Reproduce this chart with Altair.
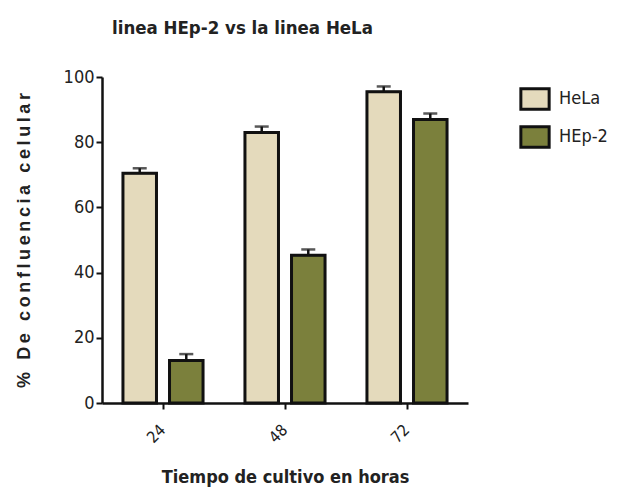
import altair as alt
import pandas as pd

times = ["24", "48", "72"]
series = ["HeLa", "HEp-2"]
hela_mean = [70.5, 83.0, 95.5]
hela_sd = [1.5, 1.8, 1.6]
hep2_mean = [13.0, 45.3, 87.0]
hep2_sd = [2.0, 1.8, 1.8]
colors = ["#E4DABC", "#7B803C"]

rows = []
for t, m, s in zip(times, hela_mean, hela_sd):
    rows.append({"time": t, "series": "HeLa", "mean": m, "top": m + s})
for t, m, s in zip(times, hep2_mean, hep2_sd):
    rows.append({"time": t, "series": "HEp-2", "mean": m, "top": m + s})
df = pd.DataFrame(rows)

FONT = "DejaVu Sans Condensed, Liberation Sans"
y_title = "\u2009".join("% De confluencia celular")

x = alt.X("time:N", sort=times, title="Tiempo de cultivo en horas",
          scale=alt.Scale(paddingInner=0, paddingOuter=0),
          axis=alt.Axis(labelAngle=315, labelFont=FONT, labelFontSize=16,
                        labelColor="#222", labelPadding=18, labelAlign="right",
                        labelBaseline="middle",
                        titleFont=FONT, titleFontSize=18, titleFontWeight="bold",
                        titleColor="#222", titlePadding=23,
                        domainColor="#111", domainWidth=2.5,
                        tickColor="#111", tickWidth=2, tickSize=6))
xo = alt.XOffset("series:N", sort=series,
                 scale=alt.Scale(paddingInner=0.28, paddingOuter=0.45))

bars = alt.Chart(df).mark_bar(stroke="#111", strokeWidth=3).encode(
    x=x,
    xOffset=xo,
    y=alt.Y("mean:Q", title=y_title,
            scale=alt.Scale(domain=[0, 100]),
            axis=alt.Axis(values=[0, 20, 40, 60, 80, 100], grid=False,
                          labelFont=FONT, labelFontSize=18, labelColor="#222",
                          labelPadding=2,
                          titleFont="Liberation Sans", titleFontSize=18,
                          titleFontWeight="bold", titleColor="#222",
                          titlePadding=30,
                          domainColor="#111", domainWidth=2.5,
                          tickColor="#111", tickWidth=2, tickSize=6)),
    color=alt.Color("series:N", sort=series,
                    scale=alt.Scale(domain=series, range=colors),
                    legend=alt.Legend(title=None, orient="none",
                                      legendX=421, legendY=10,
                                      symbolType="M-1.38,-1H1.38V1H-1.38Z",
                                      symbolSize=420, symbolStrokeColor="#111",
                                      symbolStrokeWidth=3, symbolOpacity=1,
                                      labelFont=FONT, labelFontSize=18,
                                      labelColor="#222", labelOffset=12,
                                      rowPadding=4)),
)

err = alt.Chart(df).mark_rule(color="#111", strokeWidth=2.5).encode(
    x=x, xOffset=xo, y="mean:Q", y2="top:Q")
cap = alt.Chart(df).mark_tick(color="#111", thickness=2.5, size=14,
                              orient="horizontal").encode(
    x=x, xOffset=xo, y="top:Q")
topline = alt.Chart(df).mark_tick(color="#111", thickness=2, size=34,
                                  orient="horizontal").encode(
    x=x, xOffset=xo, y="mean:Q")

chart = alt.layer(bars, topline, err, cap).properties(
    width=366, height=326,
    padding={"left": 94, "top": 69, "right": 142, "bottom": 85},
    autosize=alt.AutoSizeParams(type="none"),
    title=alt.TitleParams("linea HEp-2 vs la linea HeLa", font=FONT,
                          fontSize=18.5, fontWeight="bold", color="#222",
                          anchor="start", frame="group", dx=10, offset=31),
).configure_view(stroke=None).configure_axis(labelFlush=False)

chart.save("out.html", embed_options={"renderer": "svg", "actions": False})
